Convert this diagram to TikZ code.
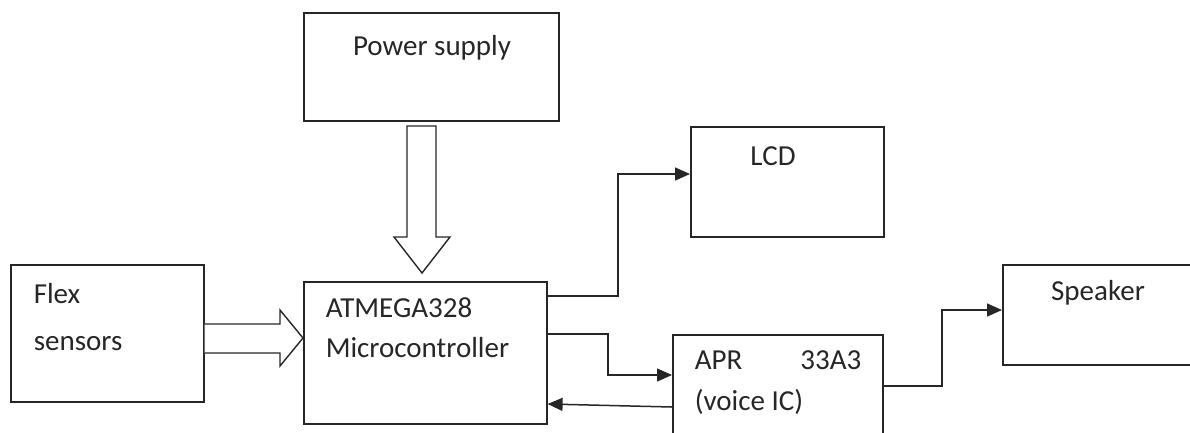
\documentclass[tikz,border=0pt]{standalone}
\usepackage{fontspec}
\setmainfont{Carlito}
\usetikzlibrary{arrows.meta,calc}
\begin{document}
\begin{tikzpicture}[x=1pt,y=-1pt,line width=1.5pt,
  blk/.style={draw=black!85,line width=1.6pt,rectangle,inner sep=0pt,anchor=north west},
  lbl/.style={inner sep=0pt,font=\fontsize{29}{34}\selectfont,text=black!85},
  conn/.style={draw=black!85,line width=1.5pt,-{Triangle[length=15pt,width=13pt]}},
  fat/.style={draw=black!85,line width=1.4pt,fill=white,line join=miter}]
\useasboundingbox (0,0) rectangle (1190,432);
\clip (0,0) rectangle (1190,432);
% boxes
\node[blk,minimum width=255pt,minimum height=108pt] (power) at (303,12) {};
\node[blk,minimum width=193pt,minimum height=110pt] (lcd) at (690,126) {};
\node[blk,minimum width=193pt,minimum height=137pt] (flex) at (10,264) {};
\node[blk,minimum width=243pt,minimum height=142pt] (micro) at (303,281) {};
\node[blk,minimum width=210pt,minimum height=130pt] (apr) at (672,334) {};
\node[blk,minimum width=220pt,minimum height=100pt] (spk) at (1002,264) {};
% labels
\node[lbl,anchor=base] (tpower) at (432,55) {Power supply};
\node[lbl,anchor=base] (tlcd) at (773,165) {LCD};
\node[lbl,anchor=base west] (tflex1) at (33,303) {Flex};
\node[lbl,anchor=base west] (tflex2) at (33,350) {sensors};
\node[lbl,anchor=base west] (tmicro1) at (325,317) {ATMEGA328};
\node[lbl,anchor=base west] (tmicro2) at (325,357) {Microcontroller};
\node[lbl,anchor=base west] (tapr1) at (694,369) {APR};
\node[lbl,anchor=base east] (tapr2) at (862,369) {33A3};
\node[lbl,anchor=base west] (tapr3) at (694,410) {(voice IC)};
\node[lbl,anchor=base] (tspk) at (1098,300) {Speaker};
% block arrows
\coordinate (ptip) at (422,273);
\draw[fat] (407,126) -- (407,237) -- (394,237) -- (ptip) -- (450,237) -- (436,237) -- (436,126) -- cycle;
\coordinate (ftip) at (micro.west |- 0,338);
\draw[fat] (flex.east |- 0,324) -- (280,324) -- (280,310) -- (ftip) -- (280,366) -- (280,353) -- (flex.east |- 0,353);
% connectors
\coordinate (m1) at (micro.east |- 0,296);
\coordinate (m2) at (micro.east |- 0,334);
\coordinate (m3) at (micro.east |- 0,404);
\coordinate (a1) at (apr.west |- 0,375);
\coordinate (a2) at (apr.west |- 0,407);
\coordinate (a3) at (apr.east |- 0,386);
\coordinate (l1) at (lcd.west |- 0,174);
\coordinate (s1) at (spk.west |- 0,310);
\draw[conn] (m1) -- (618,296) |- (l1);
\draw[conn] (m2) -- (608,334) |- (a1);
\draw[conn] (a2) -- (m3);
\draw[conn] (a3) -- (942,386) |- (s1);
\end{tikzpicture}
\end{document}
